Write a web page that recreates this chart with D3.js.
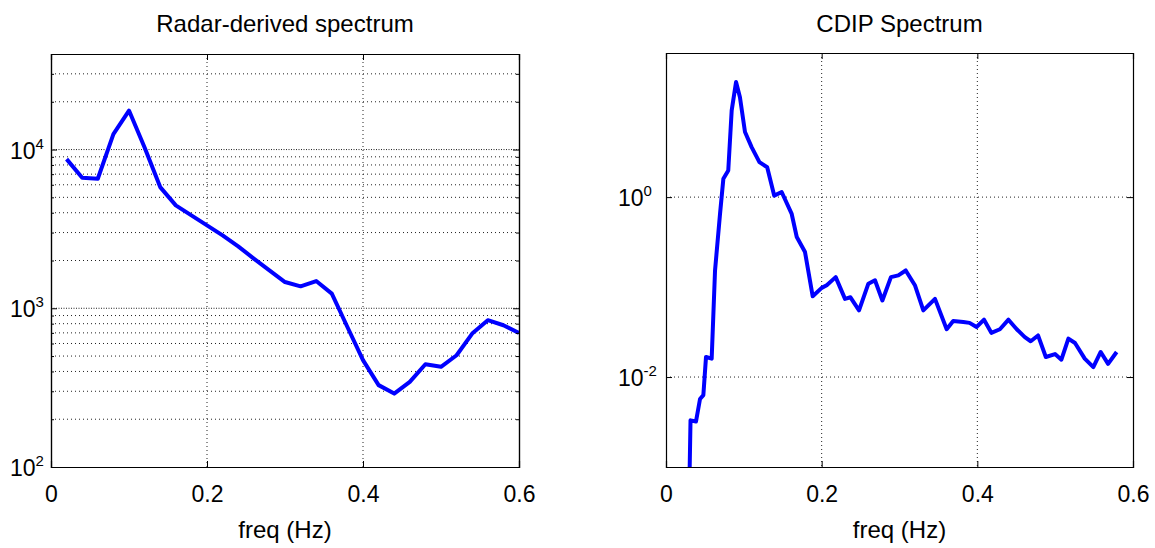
<!DOCTYPE html>
<html>
<head>
<meta charset="utf-8">
<script src="https://cdn.jsdelivr.net/npm/d3@7"></script>
<style>
  body { margin: 0; background: #fff; }
  text { font-family: "Liberation Sans", Arial, sans-serif; fill: #000; }
</style>
</head>
<body>
<div id="chart"></div>
<script>
// radar-derived spectrum, every 0.02 Hz
let radarFreq = [0.02, 0.04, 0.06, 0.08, 0.10, 0.12, 0.14, 0.16, 0.18, 0.20,
                 0.22, 0.24, 0.26, 0.28, 0.30, 0.32, 0.34, 0.36, 0.38, 0.40,
                 0.42, 0.44, 0.46, 0.48, 0.50, 0.52, 0.54, 0.56, 0.58, 0.60];
let radarSpec = [8700, 6640, 6550, 12500, 17600, 10300, 5800, 4450, 3850, 3330,
                 2880, 2455, 2057, 1735, 1463, 1375, 1485, 1236, 762, 471,
                 328, 290, 344, 444, 428, 506, 693, 841, 782, 700];

// CDIP buoy spectrum
let cdipFreq = [0.029, 0.0315, 0.0385, 0.0437, 0.048, 0.0514, 0.0587, 0.063, 0.0694, 0.0737,
                0.08, 0.0844, 0.09, 0.095, 0.1015, 0.11, 0.12, 0.13, 0.139, 0.1486,
                0.1615, 0.168, 0.1786, 0.1885, 0.2, 0.2065, 0.218, 0.23, 0.237, 0.248,
                0.26, 0.2685, 0.278, 0.289, 0.2985, 0.308, 0.32, 0.3306, 0.3456, 0.3606,
                0.369, 0.382, 0.39, 0.399, 0.4086, 0.418, 0.429, 0.44, 0.4506, 0.461,
                0.4686, 0.478, 0.488, 0.4998, 0.508, 0.517, 0.5255, 0.538, 0.549, 0.5585,
                0.568, 0.579];
let cdipSpec = [0.0002, 0.0033, 0.0032, 0.0057, 0.0063, 0.0167, 0.016, 0.153, 0.65, 1.6,
                1.98, 9.2, 19, 12.9, 5.3, 3.6, 2.45, 2.15, 1.04, 1.14,
                0.65, 0.36, 0.245, 0.079, 0.098, 0.105, 0.129, 0.074, 0.077, 0.055,
                0.109, 0.119, 0.071, 0.129, 0.135, 0.153, 0.104, 0.055, 0.074, 0.034,
                0.042, 0.041, 0.040, 0.036, 0.0434, 0.031, 0.034, 0.0434, 0.034, 0.0278,
                0.025, 0.029, 0.0167, 0.018, 0.0156, 0.0267, 0.0239, 0.016, 0.0129, 0.019,
                0.014, 0.019];

let xTicks = [0, 0.2, 0.4, 0.6];
let xTickLabels = ["0", "0.2", "0.4", "0.6"];

let panels = [
    {
        title: "Radar-derived spectrum",
        freq: radarFreq, spec: radarSpec,
        yDomain: [100, 40000],
        yMajor: [100, 1000, 10000], yExp: ["2", "3", "4"],
        minor: true,
        left: 51, right: 519, top: 54, bottom: 467,
        labelX: 10
    },
    {
        title: "CDIP Spectrum",
        freq: cdipFreq, spec: cdipSpec,
        yDomain: [0.001, 40],
        yMajor: [0.01, 1], yExp: ["-2", "0"],
        minor: false,
        left: 666, right: 1133, top: 53, bottom: 467,
        labelX: 618
    }
];

let svg = d3.select('#chart')
    .append('svg')
    .attr('width', 1155)
    .attr('height', 548);

panels.forEach((p, i) => {
    let width = p.right - p.left;
    let height = p.bottom - p.top;

    let x = d3.scaleLinear().domain([0, 0.6]).range([0, width]);
    let y = d3.scaleLog().domain(p.yDomain).range([height, 0]);

    let g = svg.append('g')
        .attr('transform', `translate(${p.left}, ${p.top})`);

    // minor log ticks (2..9 per decade)
    let minorVals = [];
    if (p.minor) {
        for (let e = 2; e <= 4; e++) {
            for (let m = 2; m <= 9; m++) {
                let v = m * Math.pow(10, e);
                if (v < p.yDomain[1]) minorVals.push(v);
            }
        }
    }

    // grid
    let grid = g.append('g').attr('class', 'grid');
    grid.selectAll('.vg')
        .data(xTicks.filter(t => t > 0 && t < 0.6))
        .enter().append('line')
        .attr('x1', d => x(d)).attr('x2', d => x(d))
        .attr('y1', 0).attr('y2', height)
        .attr('stroke', '#222').attr('stroke-width', 1)
        .attr('stroke-dasharray', '1,3');
    grid.selectAll('.hg')
        .data(p.yMajor.filter(v => v > p.yDomain[0]))
        .enter().append('line')
        .attr('x1', 0).attr('x2', width)
        .attr('y1', d => y(d)).attr('y2', d => y(d))
        .attr('stroke', '#222').attr('stroke-width', 1)
        .attr('stroke-dasharray', p.minor ? '1,1.5' : '1,3');
    grid.selectAll('.mg')
        .data(minorVals)
        .enter().append('line')
        .attr('x1', 0).attr('x2', width)
        .attr('y1', d => y(d)).attr('y2', d => y(d))
        .attr('stroke', '#222').attr('stroke-width', 1)
        .attr('stroke-dasharray', '1,3');

    // clip and line
    g.append('clipPath').attr('id', 'clip' + i)
        .append('rect').attr('width', width).attr('height', height);

    let data = p.freq.map((f, k) => ({ f: f, s: p.spec[k] }));
    let line = d3.line()
        .x(d => x(d.f))
        .y(d => y(d.s));

    g.append('path')
        .datum(data)
        .attr('clip-path', `url(#clip${i})`)
        .attr('fill', 'none')
        .attr('stroke', '#0000ff')
        .attr('stroke-width', 4)
        .attr('stroke-linejoin', 'round')
        .attr('d', line);

    // axes, ticks pointing inward
    let bottomAxis = d3.axisBottom(x).tickValues(xTicks)
        .tickSize(-6).tickPadding(19)
        .tickFormat((d, k) => xTickLabels[k]);
    let topAxis = d3.axisTop(x).tickValues(xTicks).tickSize(-6).tickFormat('');
    let leftAxis = d3.axisLeft(y).tickValues(p.yMajor).tickSize(-6).tickFormat('');
    let rightAxis = d3.axisRight(y).tickValues(p.yMajor).tickSize(-6).tickFormat('');

    let gb = g.append('g').attr('transform', `translate(0, ${height})`).call(bottomAxis);
    gb.selectAll('text').attr('font-size', 23).attr('font-family', '"Liberation Sans", Arial, sans-serif');
    g.append('g').call(topAxis);
    g.append('g').call(leftAxis);
    g.append('g').attr('transform', `translate(${width}, 0)`).call(rightAxis);

    if (p.minor) {
        g.append('g').call(d3.axisLeft(y).tickValues(minorVals).tickSize(-3).tickFormat(''));
        g.append('g').attr('transform', `translate(${width}, 0)`)
            .call(d3.axisRight(y).tickValues(minorVals).tickSize(-3).tickFormat(''));
    }

    g.selectAll('.domain').attr('stroke', '#000').attr('stroke-width', 1.2);
    g.selectAll('.tick line').attr('stroke', '#000');

    // y tick labels as 10^n
    let yl = svg.append('g');
    let lbl = yl.selectAll('text')
        .data(p.yMajor)
        .enter().append('text')
        .attr('x', p.labelX)
        .attr('y', d => p.top + y(d) + 9)
        .attr('font-size', 23);
    lbl.append('tspan').text('10');
    lbl.append('tspan')
        .attr('font-size', 15)
        .attr('dy', -10)
        .text((d, k) => p.yExp[k]);

    // title and x label
    svg.append('text')
        .attr('x', p.left + width / 2)
        .attr('y', 32)
        .attr('text-anchor', 'middle')
        .attr('font-size', 24)
        .text(p.title);

    svg.append('text')
        .attr('x', p.left + width / 2)
        .attr('y', 538)
        .attr('text-anchor', 'middle')
        .attr('font-size', 24)
        .text('freq (Hz)');
});
</script>
</body>
</html>
